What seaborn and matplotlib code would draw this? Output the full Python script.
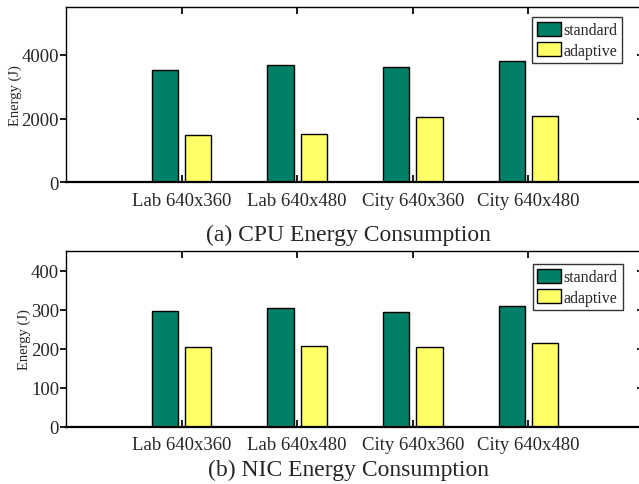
import numpy as np
import pandas as pd
import matplotlib
matplotlib.use("Agg")
import matplotlib.pyplot as plt
import seaborn as sns

# Data
categories = ["Lab 640x360", "Lab 640x480", "City 640x360", "City 640x480"]
modes = ["standard", "adaptive"]
cpu_standard = [3540, 3690, 3605, 3800]
cpu_adaptive = [1475, 1515, 2035, 2070]
nic_standard = [296, 305, 295, 308]
nic_adaptive = [205, 207, 204, 215]

GREEN = "#008066"
YELLOW = "#FFFF66"

sns.set_theme(style="white")
plt.rcParams["font.family"] = ["Liberation Serif", "DejaVu Serif"]


def make_frame(std, ada):
    """Long-form table for seaborn"""
    return pd.DataFrame({
        "category": categories * 2,
        "mode": [modes[0]] * len(categories) + [modes[1]] * len(categories),
        "energy": list(std) + list(ada),
    })


def draw_panel(ax, df, ylim, yticks, caption, caption_y, legend_anchor):
    sns.barplot(data=df, x="category", y="energy", hue="mode",
                order=categories, hue_order=modes,
                palette=[GREEN, YELLOW], width=0.58, gap=0.22,
                edgecolor="black", linewidth=1.0, saturation=1,
                errorbar=None, ax=ax)
    ax.set_xlim(-1, 4)
    ax.set_ylim(*ylim)
    ax.set_yticks(yticks)
    ax.set_xlabel(caption, fontsize=17)
    ax.xaxis.set_label_coords(0.488, caption_y)
    ax.set_ylabel("Energy (J)", fontsize=10.5, labelpad=0)
    ax.tick_params(axis="x", which="both", direction="in", length=5,
                   top=True, bottom=True, labelsize=13.5, pad=7, color="black")
    ax.tick_params(axis="y", which="both", direction="out", length=4,
                   left=True, labelsize=13.5, pad=1, color="black")
    # inward ticks on the right edge (box on)
    sec = ax.secondary_yaxis("right")
    sec.set_yticks(yticks)
    sec.tick_params(direction="in", length=5, labelright=False, color="black")
    sec.spines["right"].set_linewidth(1.0)
    for s in ax.spines.values():
        s.set_visible(True)
        s.set_color("black")
        s.set_linewidth(1.0)
    ax.spines["bottom"].set_linewidth(1.6)
    leg = ax.legend(loc="upper right", bbox_to_anchor=legend_anchor,
                    fontsize=11.5, frameon=True, fancybox=False,
                    edgecolor="black", handlelength=1.5, handleheight=0.95,
                    handletextpad=0.15, borderpad=0.3, labelspacing=0.25,
                    borderaxespad=0)
    leg.get_frame().set_linewidth(1.0)


fig = plt.figure(figsize=(6.39, 4.85), dpi=100)
ax1 = fig.add_axes([0.1033, 0.622, 0.9045, 0.3614])
ax2 = fig.add_axes([0.1033, 0.1181, 0.9045, 0.3623])

draw_panel(ax1, make_frame(cpu_standard, cpu_adaptive), (0, 5500),
           [0, 2000, 4000], "(a) CPU Energy Consumption", -0.235,
           (0.962, 0.943))
draw_panel(ax2, make_frame(nic_standard, nic_adaptive), (0, 450),
           [0, 100, 200, 300, 400], "(b) NIC Energy Consumption", -0.185,
           (0.963, 0.926))

fig.savefig("out.png", dpi=100)
